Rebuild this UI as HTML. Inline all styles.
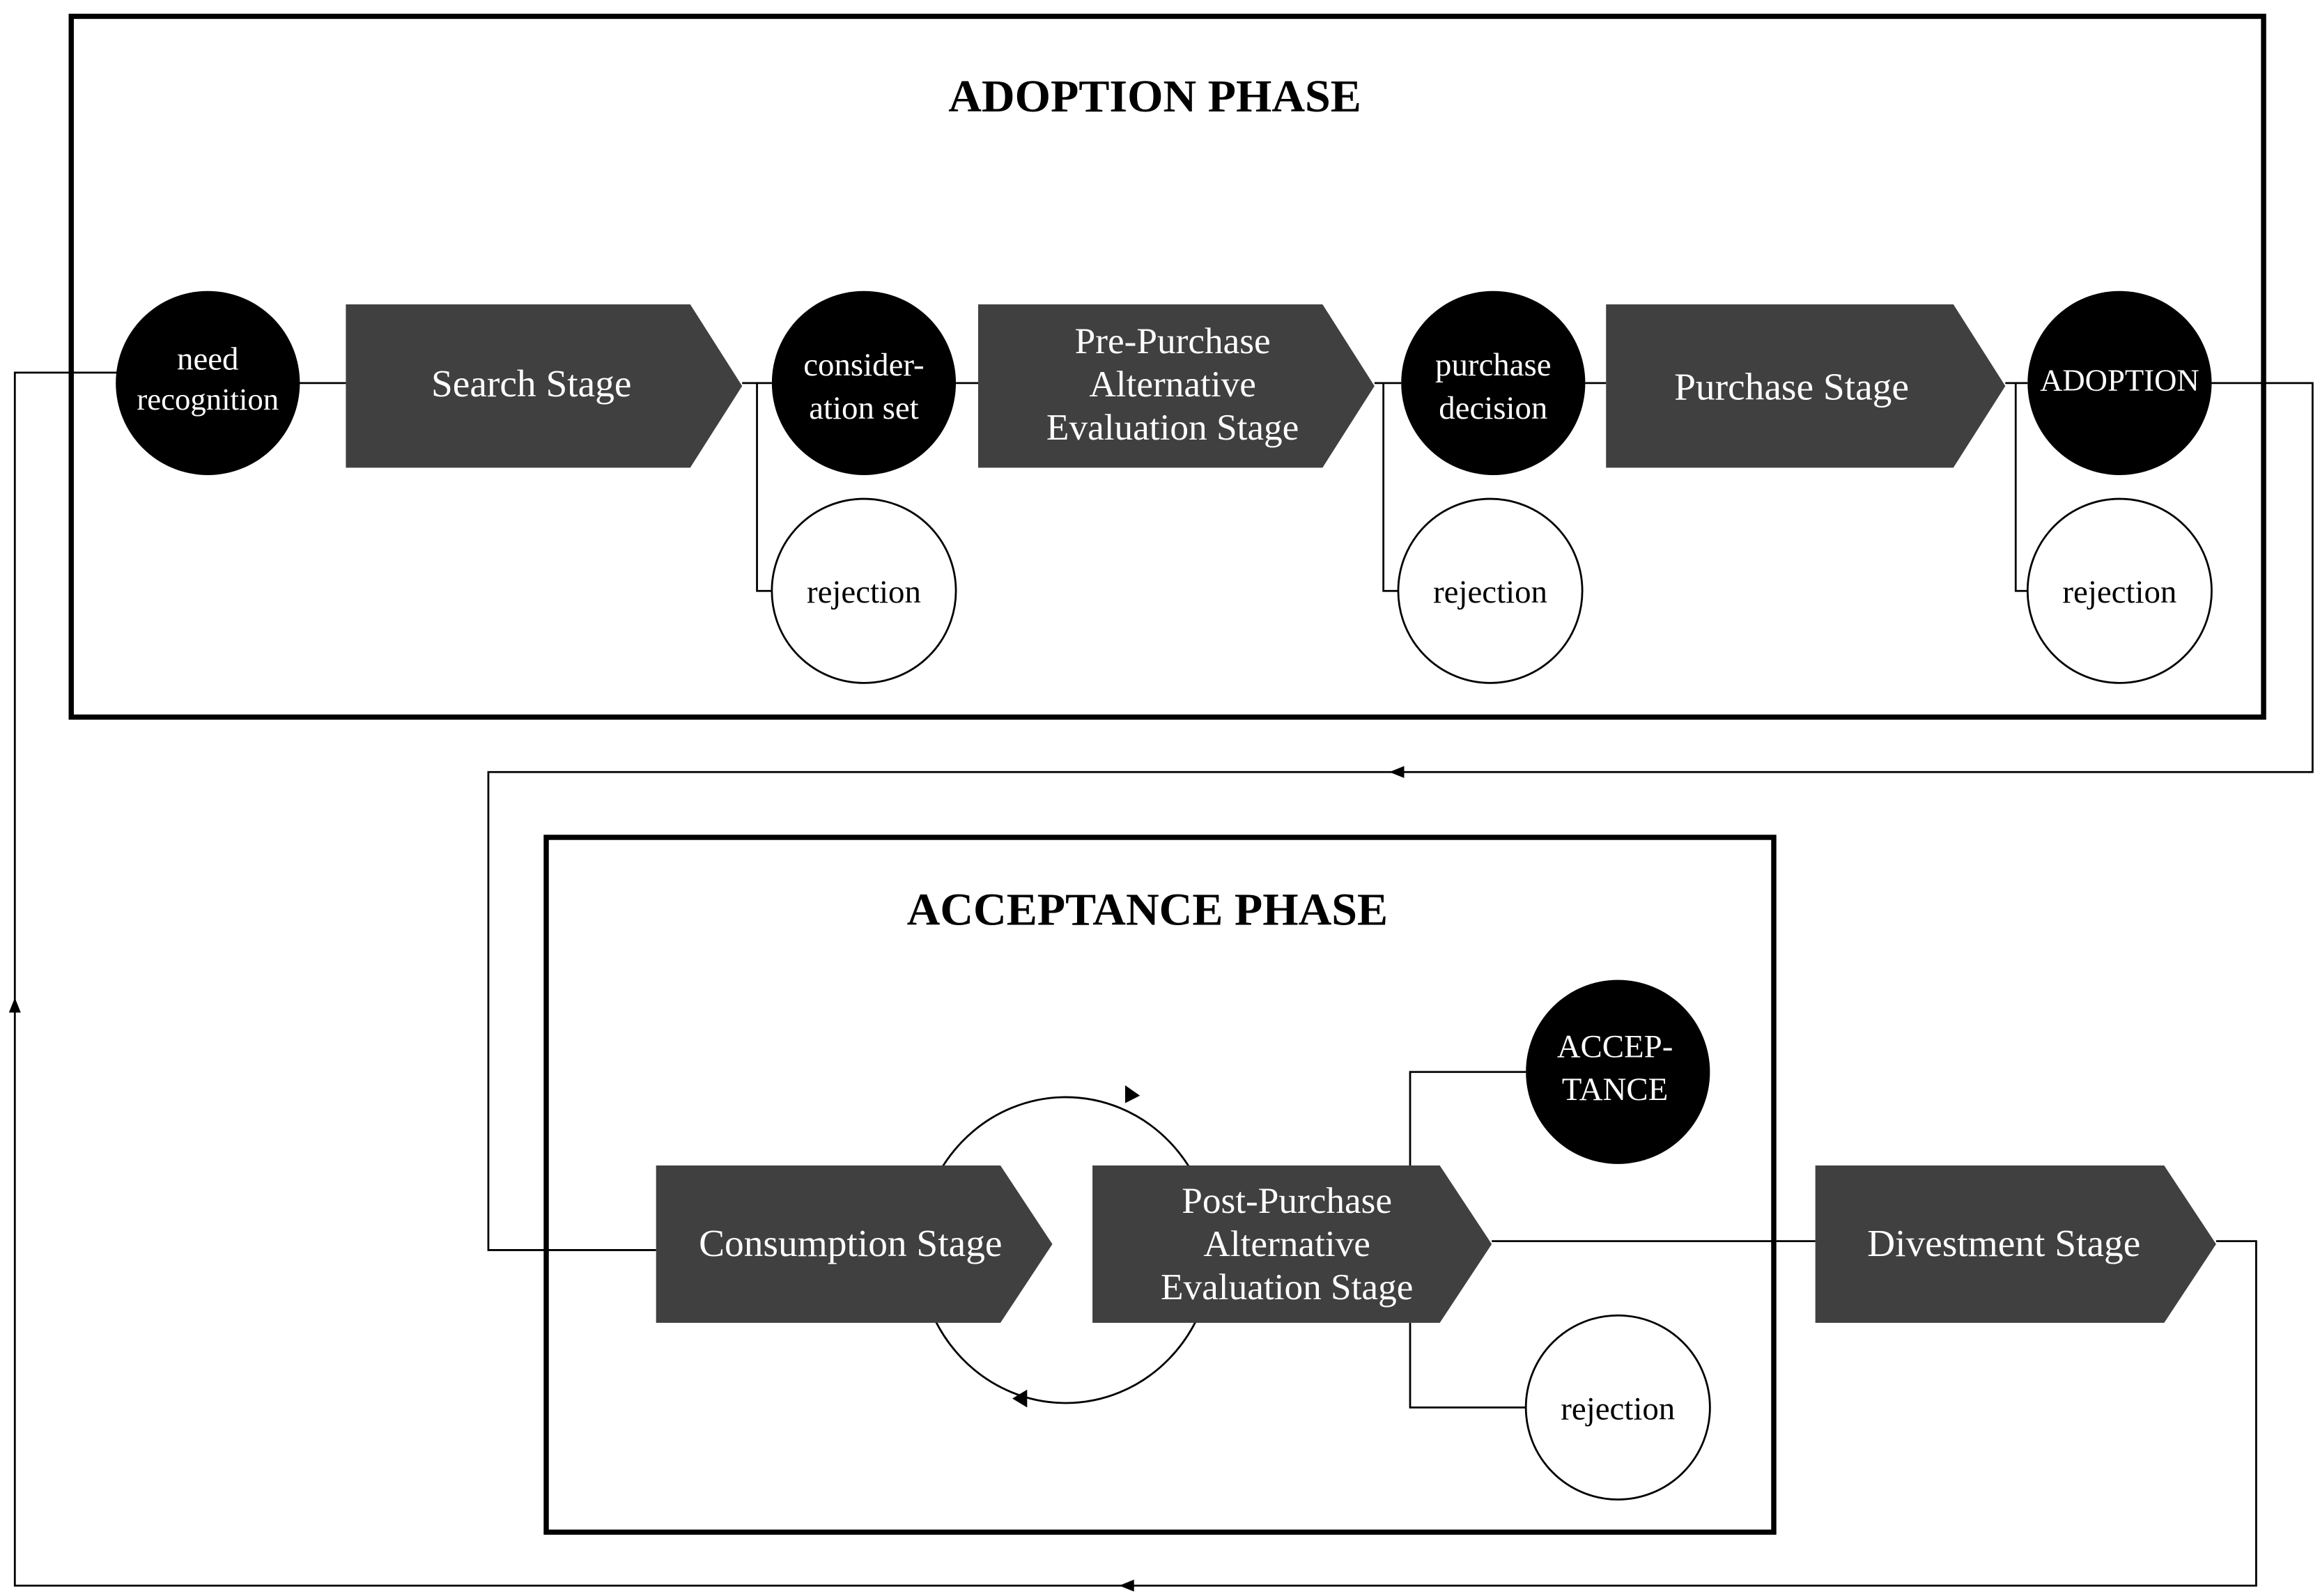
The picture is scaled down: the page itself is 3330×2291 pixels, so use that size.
<!DOCTYPE html>
<html><head><meta charset="utf-8"><style>
html,body{margin:0;padding:0;background:#fff;}
svg{display:block;}
text{font-family:"Liberation Serif",serif;}
</style></head><body>
<svg width="3330" height="2291" viewBox="0 0 1563 1075" preserveAspectRatio="none" xmlns="http://www.w3.org/2000/svg">
<rect width="1563" height="1075" fill="#fff"/>
<g fill="none" stroke="#000" stroke-width="1.3">
<polyline points="80,251 10,251 10,1068 1520,1068 1520,836 1493,836"/>
<line x1="200" y1="258" x2="233" y2="258"/>
<line x1="500" y1="258" x2="520" y2="258"/>
<line x1="644" y1="258" x2="659" y2="258"/>
<line x1="926" y1="258" x2="944" y2="258"/>
<line x1="1068" y1="258" x2="1082" y2="258"/>
<line x1="1351" y1="258" x2="1366" y2="258"/>
<polyline points="510,258 510,398 520,398"/>
<polyline points="932,258 932,398 942,398"/>
<polyline points="1358,258 1358,398 1366,398"/>
<polyline points="1490,258 1558,258 1558,520 329,520 329,842 442,842"/>
<line x1="1005" y1="836" x2="1223" y2="836"/>
<polyline points="950,785 950,722 1028,722"/>
<polyline points="950,891 950,948 1028,948"/>
<ellipse cx="718" cy="842" rx="99" ry="103"/>
</g>
<g fill="#000">
<polygon points="10,672 6,682 14,682"/>
<polygon points="754,1068 764,1064 764,1072"/>
<polygon points="936,520 946,516 946,524"/>
<polygon points="768,738 758,731 758,743"/>
<polygon points="682,942 692,936 692,948"/>
</g>
<rect x="48" y="11" width="1477" height="472" fill="none" stroke="#000" stroke-width="3.5"/>
<rect x="368" y="564" width="827" height="468" fill="none" stroke="#000" stroke-width="3.5"/>
<text x="778" y="75" text-anchor="middle" font-size="31" font-weight="bold">ADOPTION PHASE</text>
<text x="773" y="623" text-anchor="middle" font-size="31" font-weight="bold">ACCEPTANCE PHASE</text>
<g fill="#404040">
<polygon points="233,205 465,205 500,260 465,315 233,315"/>
<polygon points="659,205 891,205 926,260 891,315 659,315"/>
<polygon points="1082,205 1316,205 1351,260 1316,315 1082,315"/>
<polygon points="442,785 674,785 709,838 674,891 442,891"/>
<polygon points="736,785 970,785 1005,838 970,891 736,891"/>
<polygon points="1223,785 1458,785 1493,838 1458,891 1223,891"/>
</g>
<g fill="#000">
<circle cx="140" cy="258" r="62"/>
<circle cx="582" cy="258" r="62"/>
<circle cx="1006" cy="258" r="62"/>
<circle cx="1428" cy="258" r="62"/>
<circle cx="1090" cy="722" r="62"/>
</g>
<g fill="#fff" stroke="#000" stroke-width="1.3">
<circle cx="582" cy="398" r="62"/>
<circle cx="1004" cy="398" r="62"/>
<circle cx="1428" cy="398" r="62"/>
<circle cx="1090" cy="948" r="62"/>
</g>
<g fill="#fff" text-anchor="middle">
<text x="358" y="267" font-size="26">Search Stage</text>
<text x="790" y="238" font-size="25">Pre-Purchase</text>
<text x="790" y="267" font-size="25">Alternative</text>
<text x="790" y="296" font-size="25">Evaluation Stage</text>
<text x="1207" y="269" font-size="26">Purchase Stage</text>
<text x="573" y="846" font-size="26">Consumption Stage</text>
<text x="867" y="817" font-size="25">Post-Purchase</text>
<text x="867" y="846" font-size="25">Alternative</text>
<text x="867" y="875" font-size="25">Evaluation Stage</text>
<text x="1350" y="846" font-size="26">Divestment Stage</text>
<text x="140" y="249" font-size="22">need</text>
<text x="140" y="276" font-size="21">recognition</text>
<text x="582" y="253" font-size="22">consider-</text>
<text x="582" y="282" font-size="22">ation set</text>
<text x="1006" y="253" font-size="22">purchase</text>
<text x="1006" y="282" font-size="22">decision</text>
<text x="1428" y="263" font-size="21">ADOPTION</text>
<text x="1088" y="712" font-size="22">ACCEP-</text>
<text x="1088" y="741" font-size="22">TANCE</text>
</g>
<g fill="#000" text-anchor="middle" font-size="22">
<text x="582" y="406">rejection</text>
<text x="1004" y="406">rejection</text>
<text x="1428" y="406">rejection</text>
<text x="1090" y="956">rejection</text>
</g>
</svg>
</body></html>
